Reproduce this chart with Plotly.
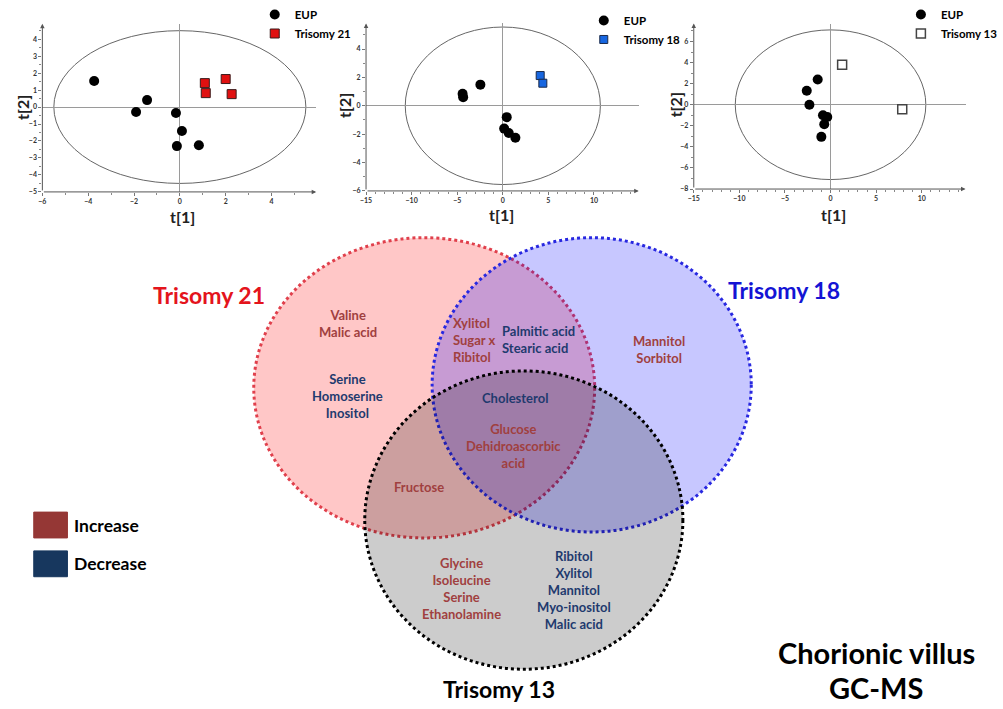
import plotly.graph_objects as go

W, H = 1003, 709
FONT = "Lato"

# ---------------- PCA score data ----------------
eup21_x = [-3.74, -1.43, -1.91, -0.17, 0.09, -0.13, 0.83]
eup21_y = [1.53, 0.41, -0.29, -0.35, -1.41, -2.30, -2.25]
t21_x = [1.09, 1.13, 2.00, 2.26]
t21_y = [1.41, 0.82, 1.65, 0.76]

eup18_x = [-4.41, -4.35, -2.46, 0.43, 0.15, 0.65, 1.38]
eup18_y = [0.84, 0.60, 1.49, -0.80, -1.61, -1.92, -2.25]
t18_x = [4.10, 4.39]
t18_y = [2.13, 1.59]

eup13_x = [-1.41, -2.61, -2.32, -0.83, -0.36, -0.69, -1.01]
eup13_y = [2.39, 1.32, 0.00, -1.00, -1.17, -1.86, -3.05]
t13_x = [1.27, 7.86]
t13_y = [3.80, -0.44]

# Hotelling ellipse semi-axes (t1, t2)
ellipse_axes = [(5.5, 4.5), (10.7, 5.55), (10.45, 7.1)]

# ---------------- Venn labels ----------------
set_names = ["Trisomy 21", "Trisomy 18", "Trisomy 13"]
t21_only_inc = ["Valine", "Malic acid"]
t21_only_dec = ["Serine", "Homoserine", "Inositol"]
t21_t18_inc = ["Xylitol", "Sugar x", "Ribitol"]
t21_t18_dec = ["Palmitic acid", "Stearic acid"]
all_dec = ["Cholesterol"]
all_inc = ["Glucose", "Dehidroascorbic", "acid"]
t21_t13_inc = ["Fructose"]
t13_only_inc = ["Glycine", "Isoleucine", "Serine", "Ethanolamine"]
t13_only_dec = ["Ribitol", "Xylitol", "Mannitol", "Myo-inositol", "Malic acid"]
t18_only_inc = ["Mannitol", "Sorbitol"]
change_labels = ["Increase", "Decrease"]

INC = "#A0403F"
DEC = "#1F3A6E"

fig = go.Figure()

# ---------------- panel geometry ----------------
panels = [
    dict(xr=[-6, 5.95], yr=[-5, 4.9], xpx=(36.7, 313.0), ypx=(192.0, 23.0),
         xd=2, xm=1, yd=1, ym=0.5, tx=(178, 217), ty=(16.7, 107)),
    dict(xr=[-15, 14.9], yr=[-6, 5.8], xpx=(363.3, 638.4), ypx=(191.0, 22.6),
         xd=5, xm=1, yd=2, ym=1, tx=(500, 215), ty=(341.7, 105)),
    dict(xr=[-15, 14.8], yr=[-8, 7.7], xpx=(694.0, 968.2), ypx=(189.1, 22.7),
         xd=5, xm=1, yd=2, ym=1, tx=(835, 215), ty=(675, 104)),
]

series = [
    (eup21_x, eup21_y, t21_x, t21_y, "Trisomy 21",
     dict(color="#E01010", size=9, symbol="square", line=dict(color="#3a1a1a", width=1))),
    (eup18_x, eup18_y, t18_x, t18_y, "Trisomy 18",
     dict(color="#1766E0", size=8, symbol="square", line=dict(color="#1a2a4a", width=1))),
    (eup13_x, eup13_y, t13_x, t13_y, "Trisomy 13",
     dict(color="white", size=9, symbol="square", line=dict(color="#444", width=1.5))),
]

legend_pos = [(251, -1), (583, 5), (903, -1)]

shapes = []
annotations = []

for i, (p, s) in enumerate(zip(panels, series)):
    n = i + 1
    xa = "x" if n == 1 else f"x{n}"
    ya = "y" if n == 1 else f"y{n}"
    lg = "legend" if n == 1 else f"legend{n}"
    ex, ey, tx_, ty_, tname, tmarker = s
    fig.add_trace(go.Scatter(x=ex, y=ey, mode="markers", name="EUP",
                             marker=dict(color="black", size=10, symbol="circle"),
                             xaxis=xa, yaxis=ya, legend=lg, cliponaxis=False))
    fig.add_trace(go.Scatter(x=tx_, y=ty_, mode="markers", name=tname,
                             marker=tmarker, xaxis=xa, yaxis=ya, legend=lg,
                             cliponaxis=False))
    axcommon = dict(showgrid=False, showline=False, zeroline=True,
                    zerolinecolor="#9a9a9a", zerolinewidth=1,
                    ticks="outside", ticklen=3, tickcolor="#777",
                    tickfont=dict(family=FONT, size=7, color="#333", weight="bold"),
                    fixedrange=True)
    xkey = "xaxis" if n == 1 else f"xaxis{n}"
    ykey = "yaxis" if n == 1 else f"yaxis{n}"
    fig.update_layout({
        xkey: dict(axcommon, range=p["xr"], domain=[p["xpx"][0] / W, p["xpx"][1] / W],
                   anchor=ya, dtick=p["xd"], tick0=0,
                   minor=dict(dtick=p["xm"], ticks="outside", ticklen=2, tickcolor="#888")),
        ykey: dict(axcommon, range=p["yr"], domain=[1 - p["ypx"][0] / H, 1 - p["ypx"][1] / H],
                   anchor=xa, dtick=p["yd"], tick0=0,
                   minor=dict(dtick=p["ym"], ticks="outside", ticklen=2, tickcolor="#888")),
    })
    a, b = ellipse_axes[i]
    shapes.append(dict(type="circle", xref=xa, yref=ya, x0=-a, x1=a, y0=-b, y1=b,
                       line=dict(color="#666", width=1), layer="below"))
    # axis arrows
    x0, x1 = p["xr"]
    y0, y1 = p["yr"]
    annotations.append(dict(x=x1, y=y0, ax=x0, ay=y0, xref=xa, yref=ya, axref=xa, ayref=ya,
                            text="", showarrow=True, arrowhead=2, arrowsize=0.9,
                            arrowwidth=1, arrowcolor="#555"))
    annotations.append(dict(x=x0, y=y1, ax=x0, ay=y0, xref=xa, yref=ya, axref=xa, ayref=ya,
                            text="", showarrow=True, arrowhead=2, arrowsize=0.9,
                            arrowwidth=1, arrowcolor="#555"))
    annotations.append(dict(x=p["tx"][0] / W, y=1 - p["tx"][1] / H, xref="paper", yref="paper",
                            xanchor="center", yanchor="middle",
                            text="t[1]", showarrow=False,
                            font=dict(family=FONT, size=16, color="#222", weight="bold")))
    annotations.append(dict(x=p["ty"][0] / W, y=1 - p["ty"][1] / H, xref="paper", yref="paper",
                            xanchor="center", yanchor="middle",
                            text="t[2]", showarrow=False, textangle=-90,
                            font=dict(family=FONT, size=16, color="#222", weight="bold")))
    lx, ly = legend_pos[i]
    fig.update_layout({lg: dict(x=lx / W, y=1 - ly / H, xanchor="left", yanchor="top",
                                bgcolor="rgba(0,0,0,0)", tracegroupgap=0,
                                font=dict(family=FONT, size=11.5, color="black", weight="bold"))})

# ---------------- Venn panel in pixel coordinates ----------------
fig.update_layout(
    xaxis4=dict(domain=[0, 1], range=[0, W], visible=False, anchor="y4", fixedrange=True),
    yaxis4=dict(domain=[0, 1], range=[H, 0], visible=False, anchor="x4", fixedrange=True),
)
venn = [
    dict(x0=250, x1=594, y0=238, y1=540, fill="rgba(255,0,0,0.22)", line="#E0404C"),
    dict(x0=430, x1=752, y0=238, y1=534, fill="rgba(0,0,255,0.22)", line="#2828E0"),
    dict(x0=362, x1=683, y0=372, y1=672, fill="rgba(0,0,0,0.20)", line="#000000"),
]
for v in venn:
    shapes.append(dict(type="circle", xref="x4", yref="y4", x0=v["x0"], x1=v["x1"],
                       y0=v["y0"], y1=v["y1"], fillcolor=v["fill"],
                       line=dict(color=v["line"], width=3, dash="dot"), layer="below"))

def add_block(lines, color, x, y, align="center"):
    annotations.append(dict(x=x, y=y, xref="x4", yref="y4", text="<br>".join(lines),
                            showarrow=False, align=align,
                            xanchor="left" if align == "left" else "center",
                            yanchor="middle",
                            font=dict(family=FONT, size=13, color=color, weight="bold")))

add_block(t21_only_inc, INC, 345, 324)
add_block(t21_only_dec, DEC, 345, 397)
add_block(t21_t18_inc, INC, 449, 341, align="left")
add_block(t21_t18_dec, DEC, 498, 340, align="left")
add_block(all_dec, DEC, 514, 399)
add_block(all_inc, INC, 512, 448)
add_block(t21_t13_inc, INC, 417, 489)
add_block(t13_only_inc, INC, 460, 591)
add_block(t13_only_dec, DEC, 573, 592)
add_block(t18_only_inc, INC, 659, 350)

title_specs = [(205, 296, "#E4141C"), (785, 291, "#1414D4"), (497, 692, "#000000")]
for name, (x, y, c) in zip(set_names, title_specs):
    annotations.append(dict(x=x, y=y, xref="x4", yref="y4", text=name, showarrow=False,
                            font=dict(family=FONT, size=23, color=c, weight="bold")))

annotations.append(dict(x=878, y=655, xref="x4", yref="y4", text="Chorionic villus",
                        showarrow=False, font=dict(family=FONT, size=29, color="black", weight="bold")))
annotations.append(dict(x=878, y=690, xref="x4", yref="y4", text="GC-MS",
                        showarrow=False, font=dict(family=FONT, size=29, color="black", weight="bold")))

# Increase / Decrease key
key_specs = [(514, 540, "#953735"), (553, 579, "#17375E")]
for lab, (y0, y1, c) in zip(change_labels, key_specs):
    shapes.append(dict(type="rect", xref="x4", yref="y4", x0=28, x1=62, y0=y0, y1=y1,
                       fillcolor=c, line=dict(color=c, width=1)))
    annotations.append(dict(x=67, y=(y0 + y1) / 2, xref="x4", yref="y4", text=lab,
                            showarrow=False, xanchor="left",
                            font=dict(family=FONT, size=17.5, color="black", weight="bold")))

fig.update_layout(
    width=W, height=H, margin=dict(l=0, r=0, t=0, b=0),
    paper_bgcolor="white", plot_bgcolor="rgba(0,0,0,0)",
    shapes=shapes, annotations=annotations, showlegend=True,
)

fig.write_html("out.html", config={"displayModeBar": False},
               post_script="document.body.style.margin='0px';document.body.style.overflow='hidden';")
